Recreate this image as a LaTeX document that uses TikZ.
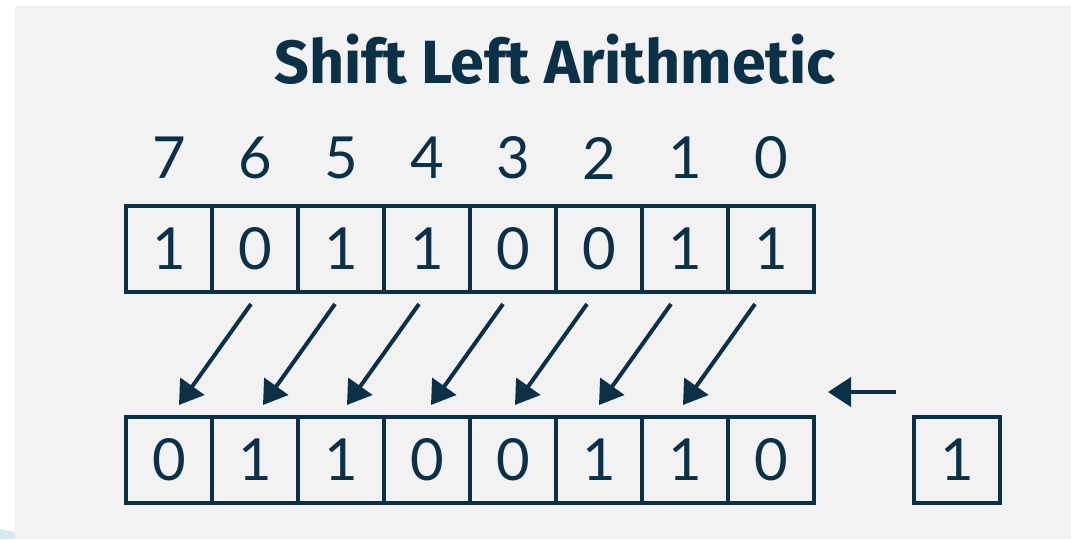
\documentclass[tikz,border=0pt]{standalone}
\usepackage{fontspec}
\usepackage{tikz}
\usetikzlibrary{arrows.meta}
\usetikzlibrary{positioning}
\setmainfont{Lato}
\newfontfamily\titlefont{Fira Sans}
\definecolor{navy}{HTML}{0B3148}
\definecolor{panel}{HTML}{F2F2F2}
\definecolor{haze}{HTML}{D6E9F1}

\tikzset{
  bitcell/.style={draw=navy, line width=4pt, minimum size=86pt, inner sep=0pt,
    text=navy, font=\fontsize{58}{60}\selectfont},
  bitnum/.style={text=navy, font=\fontsize{58}{60}\selectfont},
  shiftarrow/.style={draw=navy, line width=4pt, -{Triangle[length=23pt,width=29pt]}}
}

\begin{document}
\begin{tikzpicture}[x=1pt, y=-1pt]
    \useasboundingbox (0, 0) rectangle (1071, 539);
    \fill [panel] (15, 6) rectangle (1071, 539);
    \fill [haze] (0, 529) -- (15, 532) -- (15, 539) -- (0, 539) -- cycle;

    \node [text=navy, font=\titlefont\bfseries\fontsize{61}{64}\selectfont, anchor=base] (title) at (555, 83) {Shift Left Arithmetic};

    % bit positions, old value and shifted value
    \foreach \i/\old/\new in {7/1/0, 6/0/1, 5/1/1, 4/1/0, 3/0/0, 2/0/1, 1/1/1, 0/1/0} {
      \node [bitnum] (n\i) at ({169 + (7-\i)*86}, 158) {\i};
      \node [bitcell] (t\i) at ({169 + (7-\i)*86}, 249) {\old};
      \node [bitcell] (b\i) at ({169 + (7-\i)*86}, 460) {\new};
    }
    \node [bitcell] (fill) at (957, 460) {1};

    % each bit moves one place to the left
    \foreach \k in {0,...,6} {
      \coordinate (s\k) at ({251 + \k*84}, 304);
      \coordinate (e\k) at ({179 + \k*84}, 405);
      \draw [shiftarrow] (s\k) -- (e\k);
    }

    \coordinate (fromfill) at (896, 392);
    \coordinate (intorow) at (828, 392);
    \draw [shiftarrow] (fromfill) -- (intorow);
\end{tikzpicture}
\end{document}
